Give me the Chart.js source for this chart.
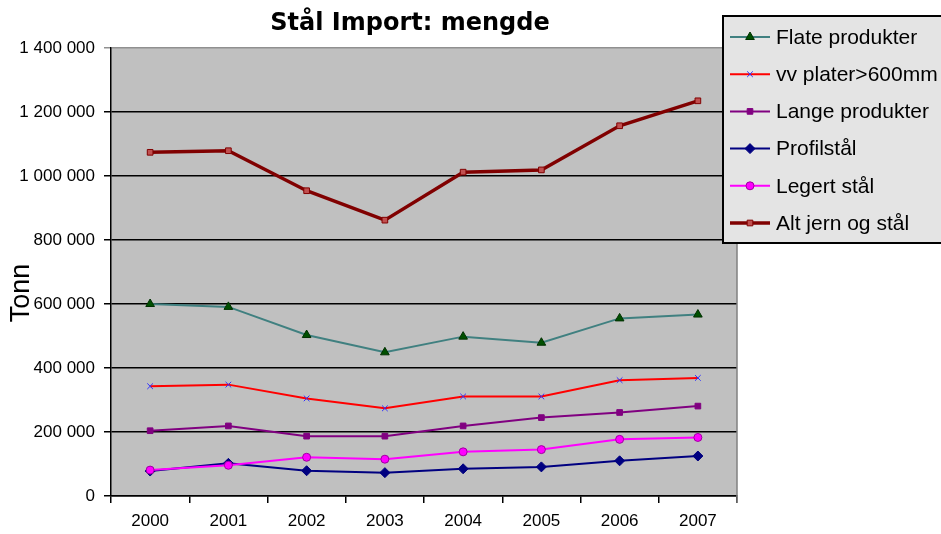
<!DOCTYPE html>
<html>
<head>
<meta charset="utf-8">
<script src="https://cdn.jsdelivr.net/npm/chart.js@4"></script>
<style>
  html, body { margin: 0; padding: 0; background: #fff; }
  canvas { display: block; }
</style>
</head>
<body>
<canvas id="chart" width="941" height="534"></canvas>
<script>
const years = ['2000', '2001', '2002', '2003', '2004', '2005', '2006', '2007'];
const flate = [600000, 591000, 503000, 449000, 498000, 479000, 555000, 567000];
const vvPlater = [343000, 348000, 305000, 274000, 311000, 311000, 362000, 369000];
const lange = [204000, 219000, 187000, 187000, 219000, 245000, 261000, 281000];
const profil = [78000, 102000, 79000, 73000, 85000, 91000, 110000, 125000];
const legert = [81000, 96000, 121000, 115000, 138000, 145000, 177000, 183000];
const altJern = [1074000, 1079000, 954000, 862000, 1012000, 1019000, 1157000, 1235000];

const FONT = '"Liberation Sans", Arial, sans-serif';

// thousands with space, like the Norwegian Excel format
function fmt(v) {
  return String(v).replace(/\B(?=(\d{3})+(?!\d))/g, ' ');
}

function series(label, data, color, style, mColor, mBorder, width, radius, order) {
  return {
    label: label,
    data: data,
    borderColor: color,
    backgroundColor: color,
    borderWidth: width,
    pointStyle: style,
    pointRadius: radius,
    pointBackgroundColor: mColor,
    pointBorderColor: mBorder,
    pointBorderWidth: 1,
    tension: 0,
    order: order
  };
}

const datasets = [
  series('Flate produkter', flate, '#408080', 'triangle', '#005000', '#003000', 2, 5, 6),
  series('vv plater>600mm', vvPlater, '#ff0000', 'crossRot', '#3030ff', '#3030ff', 2, 4, 5),
  series('Lange produkter', lange, '#800080', 'rect', '#800080', '#800080', 2, 4, 4),
  series('Profilstål', profil, '#000080', 'rectRot', '#000080', '#000080', 2, 5, 3),
  series('Legert stål', legert, '#ff00ff', 'circle', '#ff00ff', '#a000a0', 2, 4, 2),
  series('Alt jern og stål', altJern, '#800000', 'rect', '#c05050', '#800000', 3.5, 4, 1)
];

const decor = {
  id: 'decor',
  beforeDraw(chart) {
    const { ctx, chartArea: a } = chart;
    ctx.save();
    ctx.fillStyle = '#fff';
    ctx.fillRect(0, 0, chart.width, chart.height);
    ctx.fillStyle = '#c0c0c0';
    ctx.fillRect(a.left, a.top, a.right - a.left, a.bottom - a.top);
    ctx.restore();
  },
  afterDraw(chart) {
    const { ctx, chartArea: a } = chart;
    ctx.save();
    // right border of plot
    ctx.strokeStyle = '#808080';
    ctx.lineWidth = 1.5;
    ctx.beginPath();
    ctx.moveTo(a.right, a.top);
    ctx.lineTo(a.right, a.bottom + 7);
    ctx.stroke();

    // title
    ctx.fillStyle = '#000';
    ctx.font = 'bold 24px "DejaVu Sans", sans-serif';
    ctx.textAlign = 'center';
    ctx.textBaseline = 'middle';
    ctx.fillText('Stål Import: mengde', 410, 24);

    // y axis title
    ctx.save();
    ctx.translate(22, 293);
    ctx.rotate(-Math.PI / 2);
    ctx.font = '27px ' + FONT;
    ctx.fillText('Tonn', 0, 0);
    ctx.restore();

    // legend
    const lx = 723, ly = 16, lh = 227;
    ctx.fillStyle = '#e4e4e4';
    ctx.fillRect(lx, ly, chart.width - lx, lh);
    ctx.strokeStyle = '#000';
    ctx.lineWidth = 2;
    ctx.strokeRect(lx, ly, chart.width - lx + 5, lh);
    ctx.font = '21px ' + FONT;
    ctx.textAlign = 'left';
    datasets.forEach((ds, i) => {
      const y = 37 + i * 37.2;
      ctx.strokeStyle = ds.borderColor;
      ctx.lineWidth = ds.borderWidth;
      ctx.beginPath();
      ctx.moveTo(730, y);
      ctx.lineTo(770, y);
      ctx.stroke();
      ctx.fillStyle = ds.pointBackgroundColor;
      ctx.strokeStyle = ds.pointBorderColor;
      ctx.lineWidth = 1;
      Chart.helpers.drawPoint(ctx, { pointStyle: ds.pointStyle, radius: ds.pointRadius, borderWidth: 1, rotation: 0 }, 750, y);
      ctx.fillStyle = '#000';
      ctx.fillText(ds.label, 776, y + 1);
    });
    ctx.restore();
  }
};

new Chart(document.getElementById('chart'), {
  type: 'line',
  data: { labels: years, datasets: datasets },
  options: {
    responsive: false,
    animation: false,
    devicePixelRatio: 1,
    layout: { padding: { left: 0, top: 48, right: 204, bottom: 0 } },
    plugins: {
      legend: { display: false },
      title: { display: false },
      tooltip: { enabled: false }
    },
    scales: {
      x: {
        offset: true,
        grid: { offset: true, drawOnChartArea: false, color: '#000', tickLength: 7, lineWidth: 1.5 },
        border: { color: '#000', width: 1.5 },
        ticks: { color: '#000', font: { family: FONT, size: 17 }, padding: 8, maxRotation: 0 },
        afterFit(scale) { scale.height = 38; }
      },
      y: {
        min: 0,
        max: 1400000,
        ticks: {
          stepSize: 200000,
          color: '#000',
          font: { family: FONT, size: 17 },
          padding: 9,
          callback: v => fmt(v)
        },
        grid: {
          color: ctx => ctx.tick && ctx.tick.value === 1400000 ? '#909090' : '#000',
          lineWidth: 1.5,
          tickLength: 7
        },
        border: { color: '#000', width: 1.5 },
        afterFit(scale) { scale.width = 111; }
      }
    }
  },
  plugins: [decor]
});
</script>
</body>
</html>
